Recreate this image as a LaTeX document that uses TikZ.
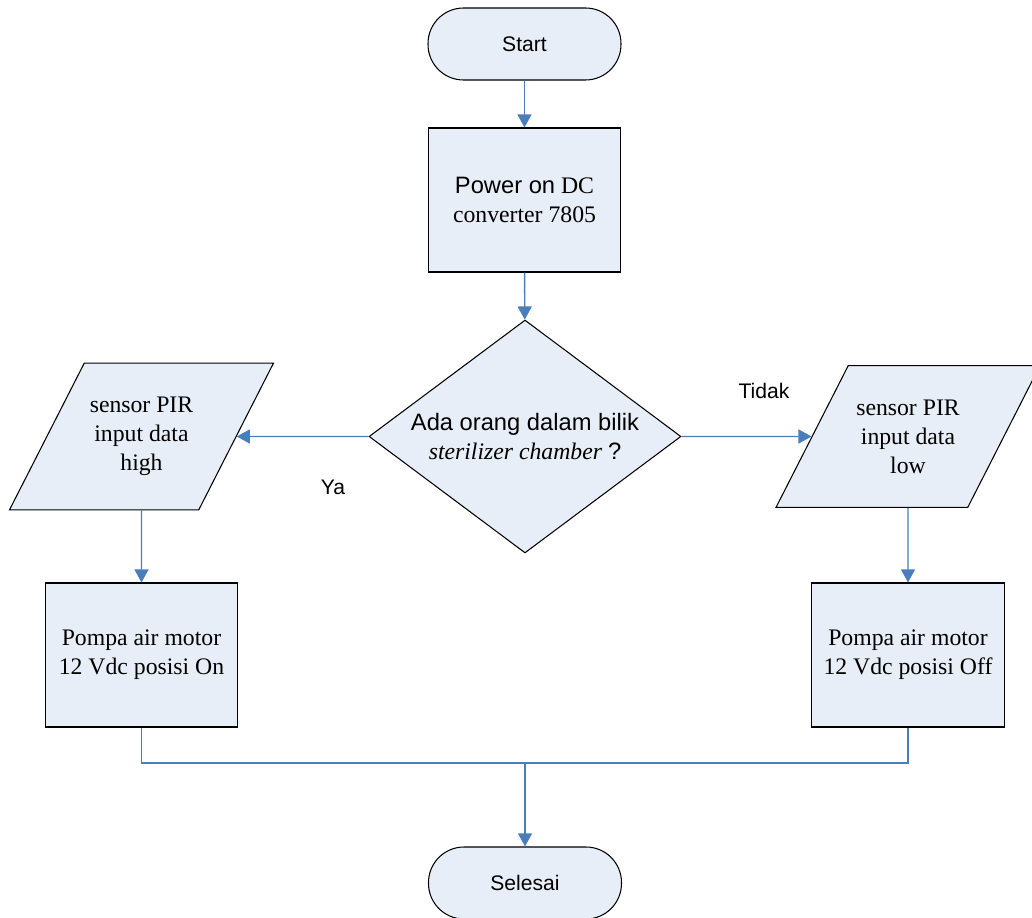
\documentclass[tikz,border=0pt]{standalone}
\usepackage{fontspec}
\setmainfont{Liberation Serif}
\setsansfont{Liberation Sans}
\usetikzlibrary{shapes.geometric,arrows.meta}

\definecolor{isian}{RGB}{232,238,247}
\definecolor{biru}{RGB}{74,126,187}

\begin{document}
\begin{tikzpicture}[x=0.02cm,y=-0.02cm]
    \tikzstyle{every node}=[font=\fontsize{13.5}{16.5}\selectfont, align=center]
    \tikzstyle{terminal}=[draw, fill=isian, line width=0.6pt, rounded corners=0.71cm,
        minimum width=3.86cm, minimum height=1.44cm, font=\sffamily\fontsize{12}{14}\selectfont]
    \tikzstyle{proses}=[draw, fill=isian, line width=0.6pt,
        minimum width=3.85cm, minimum height=2.88cm, inner sep=0pt]
    \tikzstyle{keputusan}=[draw, fill=isian, line width=0.6pt, diamond, aspect=1.34,
        minimum width=6.24cm, minimum height=4.66cm, inner sep=0pt]
    \tikzstyle{datain}=[draw, fill=isian, line width=0.6pt, trapezium,
        trapezium left angle=63, trapezium right angle=117, trapezium stretches body,
        minimum width=5.28cm, inner xsep=0pt, inner ysep=0.68cm]
    \tikzstyle{panah}=[draw=biru, line width=0.8pt, -{Triangle[length=7.5pt,width=8pt]}]
    \tikzstyle{garis}=[draw=biru, line width=0.7pt]
    \tikzstyle{ket}=[font=\sffamily\fontsize{12}{14}\selectfont]

    \useasboundingbox (0,0) rectangle (1032,918);

    \node[terminal] (start) at (524.5,44) {Start};

    \node[proses] (power) at (524.5,200) {\textsf{Power on} DC\\converter 7805};

    \node[keputusan] (cek) at (525,436.5)
    {\textsf{Ada orang dalam bilik}\\\textit{sterilizer chamber} \textsf{?}};

    \node[datain] (high) at (141.5,436.5) {sensor PIR\\input data\\high};
    \node[datain] (low) at (908,436.5) {sensor PIR\\input data\\low};

    \node[proses] (pompaon) at (141.5,655) {Pompa air motor\\12 Vdc posisi On};
    \node[proses] (pompaoff) at (908,655) {Pompa air motor\\12 Vdc posisi Off};

    \node[terminal] (selesai) at (525,883) {Selesai};

    \node[ket] (ya) at (333,487) {Ya};
    \node[ket] (tidak) at (764,391) {Tidak};

    \coordinate (gabung) at (525,763);

    \draw[panah] (start) -- (power);
    \draw[panah] (power) -- (cek);
    \draw[panah] (cek) -- (high);
    \draw[panah] (cek) -- (low);
    \draw[panah] (high) -- (pompaon);
    \draw[panah] (low) -- (pompaoff);

    % gabungan ke selesai
    \draw[garis] (pompaon.south) |- (gabung) -| (pompaoff.south);
    \draw[panah] (gabung) -- (selesai);

\end{tikzpicture}
\end{document}
